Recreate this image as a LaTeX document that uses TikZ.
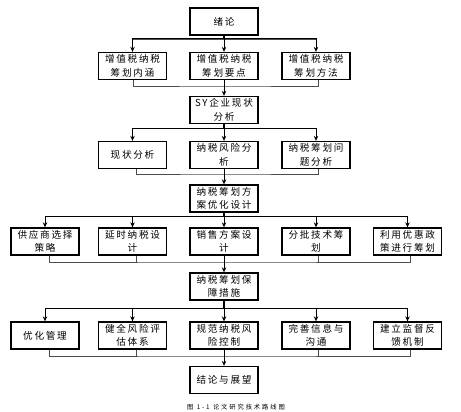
\documentclass[tikz,border=0pt]{standalone}
\usepackage{fontspec}
\setmainfont{Noto Sans CJK SC}[LetterSpace=18]
\newfontfamily\capfont{Noto Sans CJK SC}[LetterSpace=30]
\usetikzlibrary{arrows.meta}
\begin{document}
\begin{tikzpicture}[x=1pt,y=-1pt,
  box/.style={draw=black,line width=1.3pt,fill=white,minimum width=68pt,minimum height=27pt,inner sep=1pt,align=center,font=\fontsize{9.6}{13.5}\selectfont},
  stem/.style={draw=black,line width=1.2pt},
  bar/.style={draw=black!70,line width=0.8pt},
  arr/.style={draw=black,line width=1pt,-{Stealth[length=5pt,width=4.5pt]}}]
\useasboundingbox (0,0) rectangle (461,412);
% nodes
\node[box] (top) at (224,21.5) {绪论};
\node[box] (a1) at (132.5,66) {增值税纳税\\筹划内涵};
\node[box] (a2) at (224,66) {增值税纳税\\筹划要点};
\node[box] (a3) at (316,66) {增值税纳税\\筹划方法};
\node[box] (sy) at (224,110) {SY企业现状\\分析};
\node[box] (b1) at (132.5,155) {现状分析};
\node[box] (b2) at (224,155) {纳税风险分\\析};
\node[box] (b3) at (316,155) {纳税筹划问\\题分析};
\node[box] (opt) at (224,198.5) {纳税筹划方\\案优化设计};
\node[box] (c1) at (45,241.5) {供应商选择\\策略};
\node[box] (c2) at (132.5,241.5) {延时纳税设\\计};
\node[box] (c3) at (224,241.5) {销售方案设\\计};
\node[box] (c4) at (316,241.5) {分批技术筹\\划};
\node[box] (c5) at (407.5,241.5) {利用优惠政\\策进行筹划};
\node[box] (guar) at (224,286.5) {纳税筹划保\\障措施};
\node[box] (d1) at (45,335.5) {优化管理};
\node[box] (d2) at (132.5,335.5) {健全风险评\\估体系};
\node[box] (d3) at (224,335.5) {规范纳税风\\险控制};
\node[box] (d4) at (316,335.5) {完善信息与\\沟通};
\node[box] (d5) at (407.5,335.5) {建立监督反\\馈机制};
\node[box] (end) at (224,380) {结论与展望};
\node[font=\capfont\fontsize{6.3}{7}\selectfont] (cap) at (236,407) {图 1-1 论文研究技术路线图};
% coordinates
\coordinate (s1) at (224,39);
\coordinate (m1) at (224,86);
\coordinate (s2) at (224,128);
\coordinate (m2) at (224,174);
\coordinate (s3) at (224,216);
\coordinate (m3) at (224,262);
\coordinate (s4) at (224,308);
\coordinate (m4) at (224,356);
% level 1
\draw[stem] (top.south) -- (s1);
\draw[bar] (a1.north |- s1) -- (a3.north |- s1);
\draw[arr] (s1) -| (a1.north);
\draw[arr] (s1) -- (a2.north);
\draw[arr] (s1) -| (a3.north);
\draw[bar] ([xshift=1pt]a1.south) |- (m1) -| ([xshift=2pt]a3.south);
\draw[arr] (a2.south) -- (sy.north);
% level 2
\draw[stem] (sy.south) -- (s2);
\draw[bar] (b1.north |- s2) -- (b3.north |- s2);
\draw[arr] (s2) -| (b1.north);
\draw[arr] (s2) -- (b2.north);
\draw[arr] (s2) -| (b3.north);
\draw[bar] ([xshift=3.5pt]b1.south) |- (m2) -| ([xshift=2pt]b3.south);
\draw[arr] (b2.south) -- (opt.north);
% level 3
\draw[stem] (opt.south) -- (s3);
\draw[bar] (c1.north |- s3) -- (c5.north |- s3);
\draw[arr] (s3) -| (c1.north);
\draw[arr] (s3) -| (c2.north);
\draw[arr] (s3) -- (c3.north);
\draw[arr] (s3) -| (c4.north);
\draw[arr] (s3) -| (c5.north);
\draw[bar] ([xshift=4pt]c1.south) |- (m3) -| ([xshift=2.5pt]c5.south);
\draw[bar] ([xshift=3.5pt]c2.south) -- ([xshift=3.5pt]c2.south |- m3);
\draw[bar] ([xshift=2pt]c4.south) -- ([xshift=2pt]c4.south |- m3);
\draw[arr] (c3.south) -- (guar.north);
% level 4
\draw[stem] (guar.south) -- (s4);
\draw[bar] (d1.north |- s4) -- (d5.north |- s4);
\draw[arr] (s4) -| (d1.north);
\draw[arr] (s4) -| (d2.north);
\draw[arr] (s4) -- (d3.north);
\draw[arr] (s4) -| (d4.north);
\draw[arr] (s4) -| (d5.north);
\draw[bar] ([xshift=4pt]d1.south) |- (m4) -| ([xshift=2.5pt]d5.south);
\draw[bar] ([xshift=3.5pt]d2.south) -- ([xshift=3.5pt]d2.south |- m4);
\draw[bar] ([xshift=2pt]d4.south) -- ([xshift=2pt]d4.south |- m4);
\draw[arr] (d3.south) -- (end.north);
\end{tikzpicture}
\end{document}
